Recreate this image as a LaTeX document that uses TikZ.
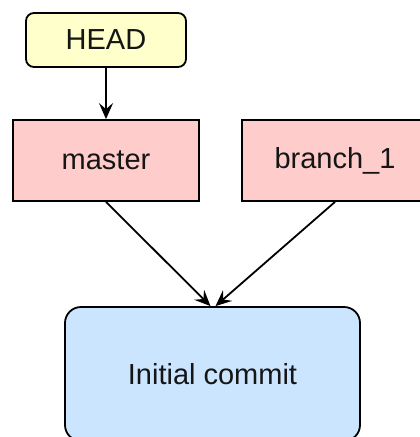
\documentclass[tikz,border=0pt]{standalone}
\usepackage{fontspec}
\setmainfont{Liberation Sans}
\usetikzlibrary{arrows.meta}
\definecolor{headfill}{HTML}{FFFFCC}
\definecolor{branchfill}{HTML}{FFCCCC}
\definecolor{commitfill}{HTML}{CCE5FF}
\definecolor{labelgray}{HTML}{151515}
\begin{document}
\begin{tikzpicture}[x=1pt,y=-1pt,
  box/.style={draw=black, line width=1.8pt, inner sep=0pt, text=labelgray,
    font=\fontsize{29}{32}\selectfont},
  headbox/.style={box, fill=headfill, rounded corners=8pt,
    minimum width=160pt, minimum height=54pt},
  refbox/.style={box, fill=branchfill, minimum width=186pt, minimum height=81pt},
  commitbox/.style={box, fill=commitfill, rounded corners=16pt,
    minimum width=295pt, minimum height=134pt},
  link/.style={draw=black, line width=1.8pt,
    -{Stealth[length=16pt,width=14pt,inset=6pt]}}]
  \useasboundingbox (0,0) rectangle (420,437);
  \clip (0,0) rectangle (420,437);
  \node[headbox] (head) at (106,40) {HEAD};
  \node[refbox] (master) at (106,160.5) {master};
  \node[refbox] (branch) at (335,160.5) {branch\_1};
  \node[commitbox] (commit) at (212.5,374) {Initial commit};
  \coordinate (inL) at ([xshift=-2pt]commit.north);
  \coordinate (inR) at ([xshift=3pt]commit.north);
  \draw[link] (head) -- (master);
  \draw[link] (master.south) -- (inL);
  \draw[link] (branch.south) -- (inR);
\end{tikzpicture}
\end{document}
